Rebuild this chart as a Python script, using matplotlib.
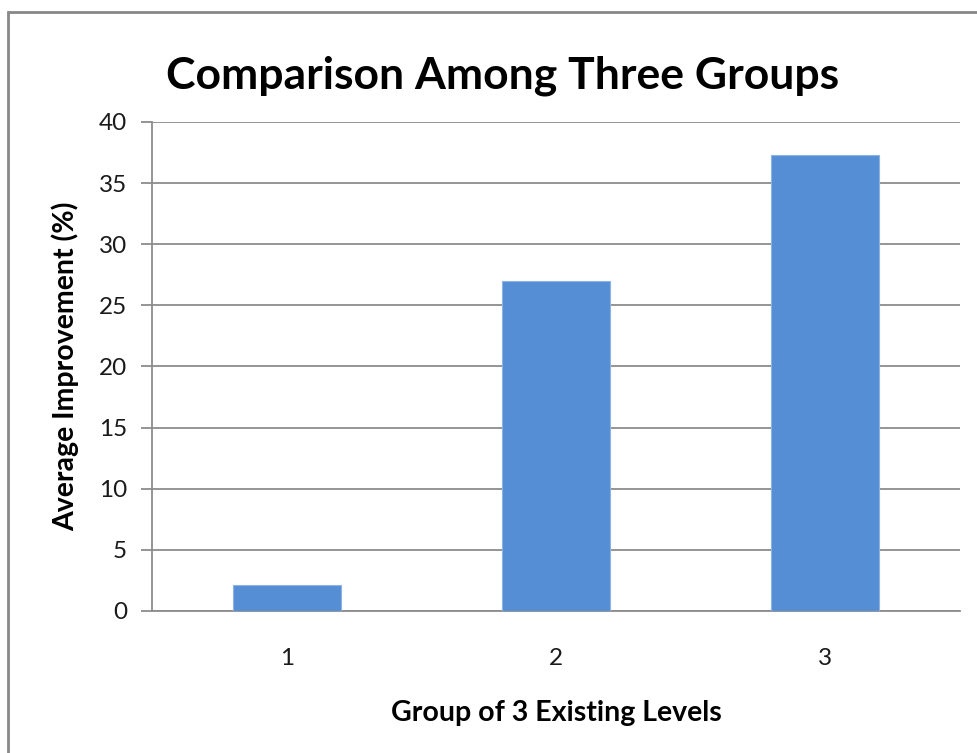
import matplotlib
matplotlib.use("Agg")
import matplotlib.pyplot as plt
from matplotlib.patches import Rectangle

# average improvement per group
groups = ["1", "2", "3"]
improvement = [2.1, 27.0, 37.3]
y_ticks = [0, 5, 10, 15, 20, 25, 30, 35, 40]

plt.rcParams["font.family"] = ["Lato", "DejaVu Sans"]

fig = plt.figure(figsize=(9.77, 7.53), dpi=100)
ax = fig.add_axes([0.1556, 0.1886, 0.8270, 0.6494])

x = list(range(1, len(groups) + 1))
ax.bar(x, improvement, width=0.4, color="#558ED5", edgecolor="#8DB3E2",
       linewidth=0.8, zorder=3)

ax.set_xlim(0.5, 3.5)
ax.set_ylim(0, 40)
ax.set_yticks(y_ticks)
ax.set_xticks(x)
ax.set_xticklabels(groups)
ax.yaxis.grid(True, color="#8c8c8c", linewidth=1.3, zorder=0)
ax.set_axisbelow(True)

for side in ["top", "right"]:
    ax.spines[side].set_visible(False)
for side in ["left", "bottom"]:
    ax.spines[side].set_color("#8c8c8c")
    ax.spines[side].set_linewidth(1.3)

ax.tick_params(axis="y", length=8, width=1.3, color="#8c8c8c",
               labelsize=17.5, pad=10, labelcolor="#1a1a1a")
ax.tick_params(axis="x", length=0, labelsize=17.5, pad=27, labelcolor="#1a1a1a")

ax.set_xlabel("Group of 3 Existing Levels", fontsize=20.5, fontweight="bold",
              labelpad=22)
ax.set_ylabel("Average Improvement (%)", fontsize=20.5, fontweight="bold",
              labelpad=14)

fig.text(0.514, 0.90, "Comparison Among Three Groups", fontsize=32,
         fontweight="bold", ha="center", va="center")

# chart area border
fig.patches.append(Rectangle((0.008, -0.05), 1.1, 1.034, transform=fig.transFigure,
                             fill=False, edgecolor="#888888", linewidth=2))

fig.savefig("out.png", dpi=100)
